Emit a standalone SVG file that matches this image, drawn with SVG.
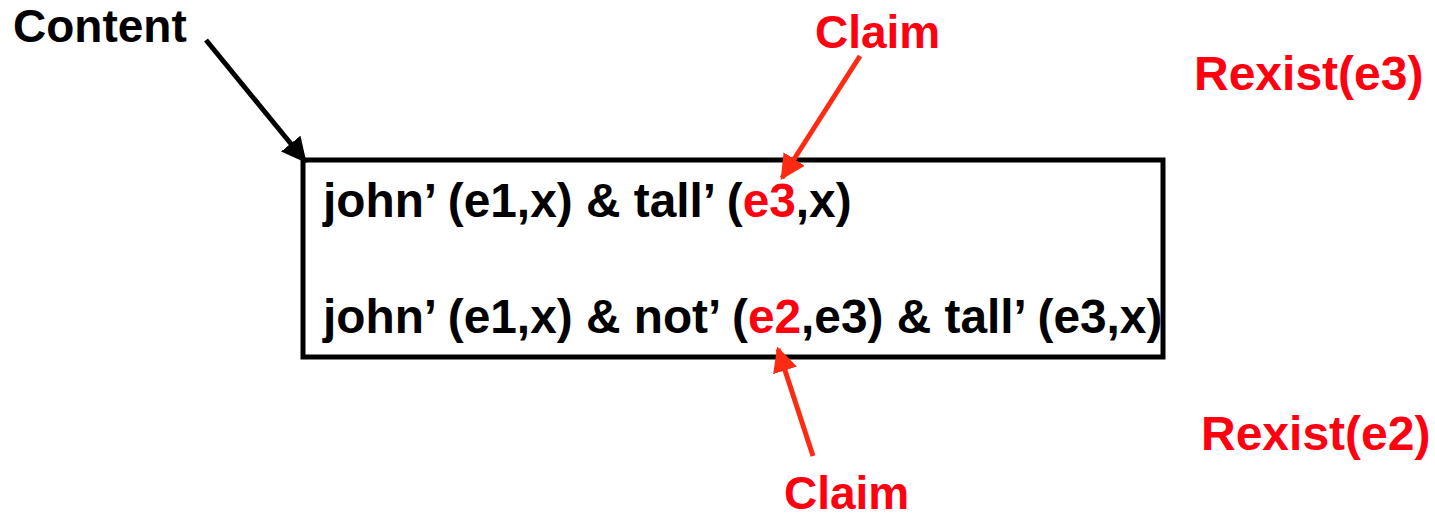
<svg xmlns="http://www.w3.org/2000/svg" width="1435" height="518" viewBox="0 0 1435 518">
<style>
text{font-family:"Liberation Sans",Arial,Helvetica,sans-serif;font-weight:bold}
.blk{fill:#000}
.red{fill:#ff0010}
.main{font-size:47.8px}
.lbl{font-size:46px}
.rx{font-size:48px}
.cline{stroke:#000;stroke-width:5;fill:none}
.rline{stroke:#ff2a12;stroke-width:5;fill:none}
</style>
<defs>
<marker id="ab" viewBox="0 0 10 10" refX="9" refY="5" markerWidth="5" markerHeight="5" markerUnits="strokeWidth" orient="auto">
<path d="M0,0 L10,5 L0,10 z" fill="#000"/>
</marker>
<marker id="ar" viewBox="0 0 10 10" refX="9" refY="5" markerWidth="5" markerHeight="5" markerUnits="strokeWidth" orient="auto">
<path d="M0,0 L10,5 L0,10 z" fill="#ff2a12"/>
</marker>
</defs>
<g id="box">
<rect x="303" y="160" width="860" height="197" fill="none" stroke="#000" stroke-width="5"/>
<text class="main blk" x="323" y="217">john’ (e1,x) &amp; tall’ (<tspan class="red">e3</tspan>,x)</text>
<text class="main blk" x="323" y="333">john’ (e1,x) &amp; not’ (<tspan class="red">e2</tspan>,e3) &amp; tall’ (e3,x)</text>
</g>
<g id="content-label">
<text class="lbl blk" x="13" y="42">Content</text>
</g>
<g id="claim-top">
<text class="lbl red" x="815" y="48">Claim</text>
</g>
<g id="claim-bottom">
<text class="lbl red" x="784" y="509">Claim</text>
</g>
<g id="rexist-e3">
<text class="rx red" x="1194" y="90">Rexist(e3)</text>
</g>
<g id="rexist-e2">
<text class="rx red" x="1201" y="450">Rexist(e2)</text>
</g>
<g id="connectors">
<line class="cline" x1="206" y1="40" x2="305" y2="161" marker-end="url(#ab)"/>
<line class="rline" x1="860" y1="56" x2="782" y2="178" marker-end="url(#ar)"/>
<line class="rline" x1="813" y1="456" x2="778" y2="349" marker-end="url(#ar)"/>
</g>
</svg>
